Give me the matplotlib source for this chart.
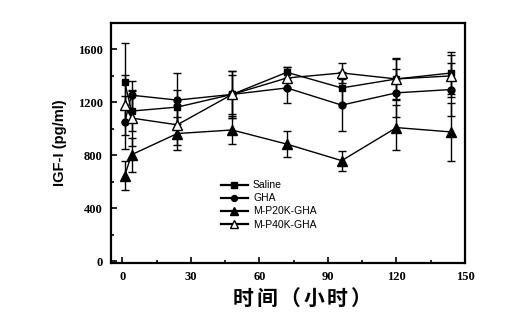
import matplotlib
matplotlib.use("Agg")
import matplotlib.pyplot as plt
from matplotlib.ticker import MultipleLocator
from matplotlib.lines import Line2D

plt.rcParams['font.family'] = ['Liberation Serif', 'DejaVu Sans']

hours = [1, 4, 24, 48, 72, 96, 120, 144]

saline = [1352, 1134, 1164, 1260, 1427, 1309, 1377, 1422]
saline_err = [300, 150, 130, 150, 40, 120, 158, 158]

gha = [1050, 1254, 1217, 1260, 1309, 1179, 1272, 1297]
gha_err = [200, 110, 205, 180, 112, 195, 180, 200]

p20k = [646, 804, 964, 991, 884, 759, 1009, 976]
p20k_err = [110, 130, 123, 105, 100, 75, 168, 217]

p40k = [1180, 1081, 1030, 1260, 1384, 1422, 1377, 1400]
p40k_err = [230, 210, 150, 180, 80, 75, 150, 160]

series_labels = ["Saline", "GHA", "M-P20K-GHA", "M-P40K-GHA"]
x_ticks = [0, 30, 60, 90, 120, 150]
y_ticks = [0, 400, 800, 1200, 1600]
x_title = "时间（小时）"

fig = plt.figure(figsize=(5.32, 3.24), dpi=100)
ax = fig.add_axes([111 / 532, 1 - 263 / 324, (465 - 111) / 532, (263 - 23) / 324])

styles = [
    dict(marker='s', ms=5, mfc='black'),
    dict(marker='o', ms=5, mfc='black'),
    dict(marker='^', ms=6.5, mfc='black'),
    dict(marker='^', ms=6.5, mfc='white'),
]
data = [(saline, saline_err), (gha, gha_err), (p20k, p20k_err), (p40k, p40k_err)]

handles = []
for (vals, errs), st, lab in zip(data, styles, series_labels):
    ax.errorbar(hours, vals, yerr=errs, color='black', lw=1.0, elinewidth=1.0,
                capsize=3, capthick=1.0, mec='black', **st)
    leg_style = dict(st)
    leg_style['ms'] = st['ms'] * 0.85
    handles.append(Line2D([], [], color='black', lw=1.6, mec='black',
                          label=lab, **leg_style))

ax.set_xlim(-5, 150)
ax.set_ylim(-15, 1800)
ax.set_xticks(x_ticks)
ax.set_yticks(y_ticks)
ax.xaxis.set_minor_locator(MultipleLocator(15))
ax.yaxis.set_minor_locator(MultipleLocator(200))
ax.tick_params(which='both', direction='in', top=False, right=False, width=1.2)
ax.tick_params(which='major', length=4, pad=6)
ax.tick_params(which='minor', length=2.5)
for lbl in ax.get_xticklabels() + ax.get_yticklabels():
    lbl.set_fontweight('bold')
    lbl.set_fontsize(9)
for sp in ax.spines.values():
    sp.set_linewidth(1.6)

ax.set_ylabel("IGF-I (pg/ml)", fontsize=10.5, fontweight='bold',
              family=['Liberation Sans', 'DejaVu Sans'], labelpad=8)

# spaced-out bold axis title, one glyph at a time
x0, step = 243, 23.5
for i, ch in enumerate(x_title):
    fig.text((x0 + step * i) / 532, 1 - 298 / 324, ch, fontsize=15,
             fontweight='bold', ha='center', va='center',
             family=['Noto Sans CJK SC', 'DejaVu Sans'])

ax.legend(handles=handles, loc='upper left', bbox_to_anchor=(0.31, 0.345),
          frameon=False, prop={'family': ['Liberation Sans', 'DejaVu Sans'], 'size': 7.5},
          handlelength=2.6, handletextpad=0.5, labelspacing=0.3,
          borderaxespad=0, borderpad=0)

fig.savefig("out.png", dpi=100, facecolor='white')
